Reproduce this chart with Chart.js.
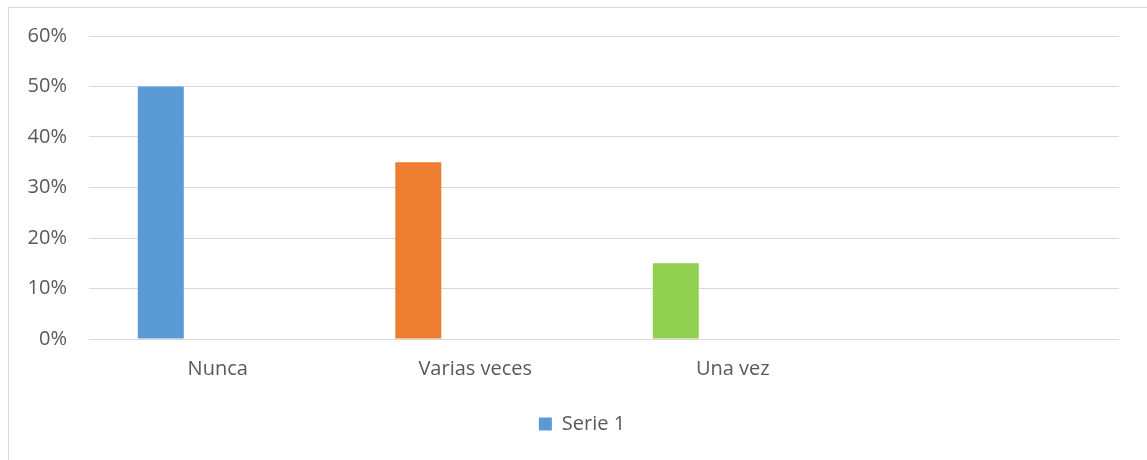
<!DOCTYPE html>
<html>
<head>
<meta charset="utf-8">
<script src="https://cdn.jsdelivr.net/npm/chart.js@4.4.1/dist/chart.umd.min.js"></script>
<style>
  html, body { margin: 0; padding: 0; background: #fff; overflow: hidden; }
  #wrap { position: absolute; left: 0; top: 0; width: 1147px; height: 460px; }
  #frame { position: absolute; left: 8px; top: 7px; width: 1200px; height: 500px;
           border-left: 1px solid #d9d9d9; border-top: 1px solid #d9d9d9; }
  canvas { position: absolute; left: 0; top: 0; }
</style>
</head>
<body>
<div id="frame"></div>
<div id="wrap"><canvas id="c" width="1147" height="460"></canvas></div>
<script>
const categories = ["Nunca", "Varias veces", "Una vez", ""];
const serie1 = [0.50, 0.35, 0.15, null];
const serie1Label = "Serie 1";
const barColors = ["#5B9BD5", "#ED7D31", "#92D050", "#5B9BD5"];
const yTicks = [0, 0.1, 0.2, 0.3, 0.4, 0.5, 0.6];

const FONT = "'Open Sans', 'Noto Sans', sans-serif";
const TEXT = "#595959";
const FS = 20;

const shiftLegend = {
  id: "shiftLegend",
  afterLayout(chart) {
    if (chart.legend) { chart.legend.left += 45; }
  }
};

new Chart(document.getElementById("c"), {
  type: "bar",
  data: {
    labels: categories,
    datasets: [
      { label: serie1Label, data: serie1, backgroundColor: barColors, borderWidth: 0 },
      { label: "", data: categories.map(() => null), backgroundColor: "rgba(0,0,0,0)", borderWidth: 0 }
    ]
  },
  plugins: [shiftLegend],
  options: {
    responsive: false,
    animation: false,
    devicePixelRatio: 1,
    categoryPercentage: 0.885,
    barPercentage: 0.4035,
    layout: { padding: { top: 36, right: 28, left: 0, bottom: 16 } },
    plugins: {
      tooltip: { enabled: false },
      legend: {
        position: "bottom",
        labels: {
          color: TEXT,
          font: { family: FONT, size: FS },
          boxWidth: 13,
          boxHeight: 13,
          padding: 10,
          generateLabels: (chart) => [{
            text: serie1Label,
            fillStyle: barColors[0],
            strokeStyle: barColors[0],
            lineWidth: 0,
            datasetIndex: 0,
            fontColor: TEXT
          }]
        }
      }
    },
    scales: {
      x: {
        afterFit: (s) => { s.height = 65; },
        grid: { display: false, drawTicks: false },
        border: { display: false },
        ticks: { color: TEXT, font: { family: FONT, size: FS }, padding: 18, maxRotation: 0 }
      },
      y: {
        min: 0,
        max: 0.6,
        afterFit: (s) => { s.width = 89; },
        afterBuildTicks: (s) => { s.ticks = yTicks.map(v => ({ value: v })); },
        grid: { color: "#d9d9d9", lineWidth: 1, drawTicks: false },
        border: { display: false },
        ticks: {
          color: TEXT,
          font: { family: FONT, size: FS },
          padding: 22,
          callback: (v) => Math.round(v * 100) + "%"
        }
      }
    }
  }
});
</script>
</body>
</html>
